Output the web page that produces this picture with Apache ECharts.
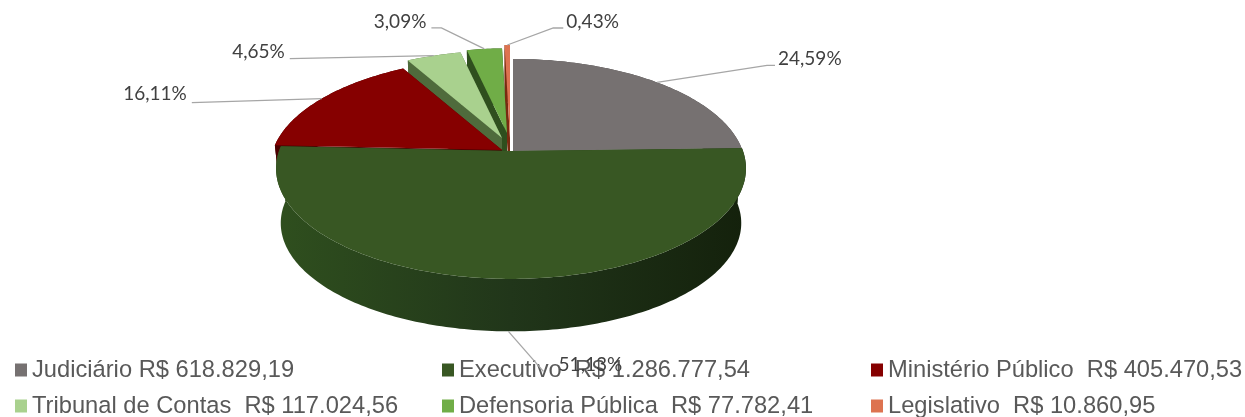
<!DOCTYPE html>
<html><head><meta charset="utf-8">
<style>html,body{margin:0;padding:0;background:#fff}#c{width:1245px;height:417px}</style>
<script src="https://cdn.jsdelivr.net/npm/echarts@6/dist/echarts.min.js"></script>
</head><body><div id="c"></div>
<script>
const categories = ['Judiciário R$ 618.829,19','Executivo  R$ 1.286.777,54','Ministério Público  R$ 405.470,53','Tribunal de Contas  R$ 117.024,56','Defensoria Pública  R$ 77.782,41','Legislativo  R$ 10.860,95'];
const values = [618829.19,1286777.54,405470.53,117024.56,77782.41,10860.95];
const percentLabels = ['24,59%','51,13%','16,11%','4,65%','3,09%','0,43%'];

// styling / layout, per slice
const topColors  = ['#767171','#385723','#860000','#A9D18E','#70AD47','#DD7350'];
const faceColors = ['#4a4747','#2a431a','#4a0000','#4f6b3c','#2f4f1e','#7a2a10'];
const drawOrder  = [5,4,3,0,2,1];           // back slices first
const centres    = [[513,151],[511,151],[502,150],[502,138],[507,133],[510,138]];
const scales     = [0.99,1,0.987,0.94,0.91,1];
const wallDepths = [40,55,42,55,55,55];
const leaderElbow= [[110,-17],[35,40],[-130,4],[-144,3],[-43,-21],[46,-17]];
const leaderEnd  = [[118,-17],[35,40],[-130,4],[-144,3],[-53,-21],[56,-17]];
const textAt     = [[121,-24],[82,34],[-135,-5],[-149,-4],[-58,-27],[59,-23]];
const textAlign  = ['left','center','right','right','right','left'];

const P = 0.158, KX = 232, KY = 107.7, BOTTOM_SCALE = 0.98;
const total = values.reduce((a,b)=>a+b,0);
const spans = []; { let a = 0; values.forEach(v=>{ const d = v/total*360; spans.push([a,a+d]); a+=d; }); }

function project(i, deg, scale, down){
  const t = deg*Math.PI/180, s = 1/(1+P*Math.cos(t)), c = centres[i];
  return [c[0]+KX*scale*Math.sin(t)*s, c[1]+down-KY*scale*Math.cos(t)*s];
}
function arc(i, a0, a1, scale, down){
  const n = Math.max(2, Math.ceil(Math.abs(a1-a0))), out = [];
  for(let k=0;k<=n;k++) out.push(project(i, a0+(a1-a0)*k/n, scale, down));
  return out;
}
function poly(points, fill, z2){
  return {type:'polygon', shape:{points}, style:{fill, stroke:null}, z2};
}
function renderSlice(i){
  const [a0,a1] = spans[i], sc = scales[i], bs = sc*BOTTOM_SCALE, c = centres[i], rank = drawOrder.indexOf(i), D = wallDepths[i];
  const kids = [];
  const apexBottom = [c[0], c[1]+D];
  [a0,a1].forEach(a=>{
    kids.push(poly([c, project(i,a,sc,0), project(i,a,bs,D), apexBottom], faceColors[i], rank*10));
  });
  const wallFill = i===1
    ? new echarts.graphic.LinearGradient(0,0,1,0,[{offset:0,color:'#2f4f1e'},{offset:0.5,color:'#21361a'},{offset:1,color:'#14210c'}])
    : faceColors[i];
  kids.push(poly(arc(i,a0,a1,sc,0).concat(arc(i,a1,a0,bs,D)), wallFill, rank*10+1));
  kids.push(poly([c].concat(arc(i,a0,a1,sc,0)), topColors[i], rank*10+2));
  // leader line + percentage
  const mid = (a0+a1)/2, front = mid>90 && mid<270;
  const anchor = front ? project(i, mid, bs, D) : project(i, mid, sc, 0);
  const at = d=>[anchor[0]+d[0], anchor[1]+d[1]];
  kids.push({type:'polyline', shape:{points:[anchor, at(leaderElbow[i]), at(leaderEnd[i])]},
    style:{stroke:'#a6a6a6', lineWidth:1.3, fill:null}, z2:200});
  const tp = at(textAt[i]);
  kids.push({type:'text', style:{x:tp[0], y:tp[1], text:percentLabels[i], fill:'#404040',
    font:'19px Lato', textAlign:textAlign[i], textVerticalAlign:'middle'}, z2:201});
  return {type:'group', children:kids};
}

const legendText = {fontFamily:'Liberation Sans', fontSize:23.7, color:'#595959', lineHeight:26};
const legendBase = {orient:'vertical', icon:'rect', itemWidth:12, itemHeight:13, itemGap:10, padding:0, height:100, textStyle:legendText, selectedMode:false};
const option = {
  animation:false, backgroundColor:'#fff',
  legend:[
    {...legendBase, left:15,  top:357, data:[categories[0],categories[3]]},
    {...legendBase, left:442, top:357, data:[categories[1],categories[4]]},
    {...legendBase, left:871, top:357, data:[categories[2],categories[5]]}
  ],
  series: categories.map((name,i)=>({
    type:'custom', name, coordinateSystem:'none', silent:true, z:5,
    itemStyle:{color:topColors[i]},
    data:[values[i]],
    renderItem:()=>renderSlice(i)
  }))
};
echarts.init(document.getElementById('c'),null,{renderer:'canvas'}).setOption(option);
</script></body></html>
